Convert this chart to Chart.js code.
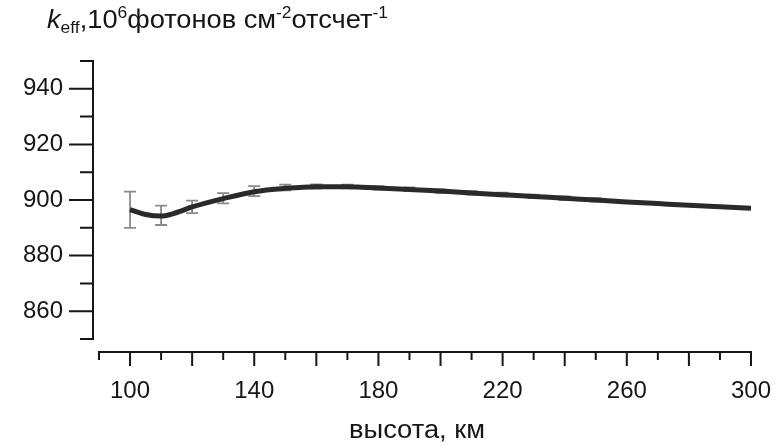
<!DOCTYPE html>
<html>
<head>
<meta charset="utf-8">
<script src="https://cdn.jsdelivr.net/npm/chart.js@4.4.1/dist/chart.umd.min.js"></script>
<style>
  html, body { margin: 0; background: #fff; }
  canvas { display: block; }
</style>
</head>
<body>
<canvas id="chart" width="777" height="446"></canvas>
<script>
// altitude, km and k_eff values
const altitude = [100, 105, 110, 115, 120, 130, 140, 150, 160, 170, 180, 190, 200, 210, 220, 230, 240, 250, 260, 270, 280, 290, 300];
const keff = [896.5, 894.8, 894.2, 895.5, 897.5, 900.5, 903.0, 904.2, 904.8, 904.8, 904.3, 903.8, 903.2, 902.5, 901.9, 901.3, 900.6, 900.0, 899.3, 898.7, 898.1, 897.6, 897.0];

// error bars
const errAltitude = [100, 110, 120, 130, 140, 150, 160, 170, 180, 190, 200, 210, 220, 230, 240, 250];
const errLow = [890.0, 891.0, 895.3, 898.8, 901.4, 903.5, 904.1, 904.2, 903.7, 903.2, 902.6, 901.9, 901.3, 900.7, 900.0, 899.4];
const errHigh = [903.0, 898.0, 899.8, 902.5, 905.0, 905.5, 905.6, 905.5, 905.0, 904.5, 903.8, 903.2, 902.6, 901.9, 901.3, 900.7];

const yTickLabels = [860, 880, 900, 920, 940];
const xTickLabels = [100, 140, 180, 220, 260, 300];

const INK = '#161616';

// draw a run of text pieces (for sub/superscripts), squeezed/stretched to a given width
const drawRich = (ctx, pieces, x, baseline, width) => {
  let natural = 0;
  pieces.forEach((p) => {
    ctx.font = p.font;
    natural += ctx.measureText(p.text).width;
  });
  const sx = width / natural;
  ctx.save();
  ctx.translate(x, baseline);
  ctx.scale(sx, 1);
  let cx = 0;
  pieces.forEach((p) => {
    ctx.font = p.font;
    ctx.fillText(p.text, cx, p.dy || 0);
    cx += ctx.measureText(p.text).width;
  });
  ctx.restore();
};

const errorBars = {
  id: 'errorBars',
  beforeDatasetsDraw(chart) {
    const { ctx, scales: { x, y } } = chart;
    ctx.save();
    ctx.strokeStyle = '#8a8a8a';
    ctx.lineWidth = 1.8;
    errAltitude.forEach((a, i) => {
      const px = x.getPixelForValue(a);
      const top = y.getPixelForValue(errHigh[i]);
      const bot = y.getPixelForValue(errLow[i]);
      ctx.beginPath();
      ctx.moveTo(px, top); ctx.lineTo(px, bot);
      ctx.moveTo(px - 6, top); ctx.lineTo(px + 6, top);
      ctx.moveTo(px - 6, bot); ctx.lineTo(px + 6, bot);
      ctx.stroke();
    });
    ctx.restore();
  },
};

const axes = {
  id: 'axes',
  afterDraw(chart) {
    const { ctx, chartArea, scales: { x, y } } = chart;
    ctx.save();
    ctx.strokeStyle = INK;
    ctx.lineWidth = 2;
    ctx.lineCap = 'square';

    // y axis, pulled a little left of the plot
    const ax = chartArea.left - 6;
    ctx.beginPath();
    ctx.moveTo(ax, y.getPixelForValue(y.max));
    ctx.lineTo(ax, y.getPixelForValue(y.min));
    y.ticks.forEach((t) => {
      const py = y.getPixelForValue(t.value);
      const len = t.value % 20 === 0 ? 23 : 12;
      ctx.moveTo(ax, py);
      ctx.lineTo(ax - len, py);
    });
    ctx.stroke();

    // x axis, detached below the plot
    const ay = chartArea.bottom + 13;
    ctx.beginPath();
    ctx.moveTo(x.getPixelForValue(x.min), ay);
    ctx.lineTo(x.getPixelForValue(x.max), ay);
    x.ticks.forEach((t) => {
      const px = x.getPixelForValue(t.value);
      const len = t.value % 20 === 0 ? 13 : 7;
      ctx.moveTo(px, ay);
      ctx.lineTo(px, ay + len);
    });
    ctx.stroke();

    // axis titles
    ctx.fillStyle = INK;
    ctx.textBaseline = 'alphabetic';
    ctx.textAlign = 'left';
    const f = 'px "Liberation Sans", Arial, sans-serif';
    drawRich(ctx, [
      { text: 'k', font: 'italic 25' + f },
      { text: 'eff', font: '16' + f, dy: 5 },
      { text: ',10', font: '25' + f },
      { text: '6', font: '16' + f, dy: -10 },
      { text: 'фотонов см', font: '25' + f },
      { text: '-2', font: '16' + f, dy: -10 },
      { text: 'отсчет', font: '25' + f },
      { text: '-1', font: '16' + f, dy: -10 },
    ], 47, 28, 341);
    drawRich(ctx, [{ text: 'высота, км', font: '26' + f }], 349, 438, 136);
    ctx.restore();
  },
};

const ctx = document.getElementById('chart').getContext('2d');
new Chart(ctx, {
  type: 'line',
  data: {
    datasets: [{
      label: 'keff',
      data: altitude.map((a, i) => ({ x: a, y: keff[i] })),
      borderColor: '#2a2a2a',
      borderWidth: 5,
      pointRadius: 0,
      tension: 0.4,
      cubicInterpolationMode: 'monotone',
      fill: false,
    }],
  },
  options: {
    responsive: false,
    animation: false,
    layout: { padding: { top: 61, right: 26, left: 0, bottom: 0 } },
    plugins: { legend: { display: false }, tooltip: { enabled: false } },
    scales: {
      x: {
        type: 'linear',
        min: 90,
        max: 300,
        grid: { display: false, drawTicks: false },
        border: { display: false },
        afterFit: (s) => {
          s.height = 107;
          s.paddingLeft = 0;
          s.paddingRight = 0;
        },
        ticks: {
          stepSize: 10,
          autoSkip: false,
          maxRotation: 0,
          padding: 38,
          color: INK,
          font: { family: '"Liberation Sans", Arial, sans-serif', size: 24 },
          callback: (v) => (xTickLabels.includes(v) ? String(v) : ''),
        },
      },
      y: {
        min: 850,
        max: 950,
        grid: { display: false, drawTicks: false },
        border: { display: false },
        afterFit: (s) => { s.width = 99; },
        ticks: {
          stepSize: 10,
          autoSkip: false,
          padding: 36,
          color: INK,
          font: { family: '"Liberation Sans", Arial, sans-serif', size: 24 },
          callback: (v) => (yTickLabels.includes(v) ? String(v) : ''),
        },
      },
    },
  },
  plugins: [errorBars, axes],
});
</script>
</body>
</html>
